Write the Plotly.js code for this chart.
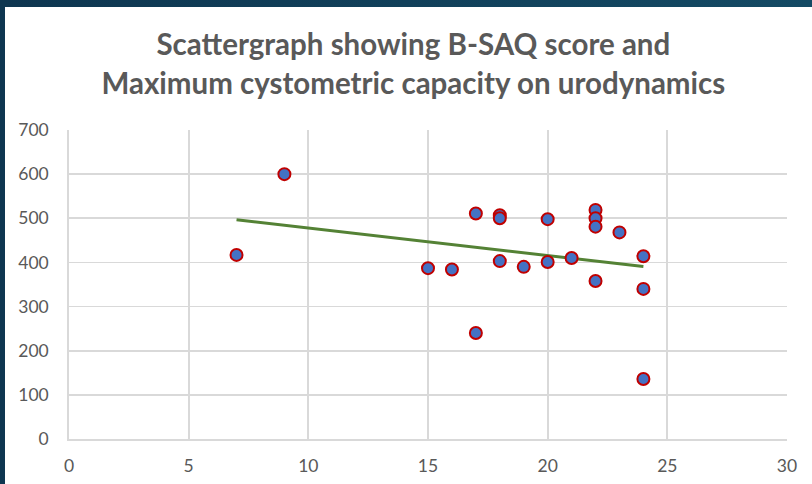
<!DOCTYPE html>
<html>
<head>
<meta charset="utf-8">
<script src="https://cdn.plot.ly/plotly-3.0.1.min.js"></script>
<style>
  html, body { margin: 0; padding: 0; width: 812px; height: 484px; overflow: hidden; }
  body { background: linear-gradient(90deg, #0e3650 0%, #144a64 100%); position: relative; }
  #chart { position: absolute; left: 5px; top: 7px; width: 807px; height: 477px; background: #fff; }
</style>
</head>
<body>
<div id="chart"></div>
<script>
const bsaqScore = [7, 9, 15, 16, 17, 17, 18, 18, 18, 19, 20, 20, 21, 22, 22, 22, 22, 23, 24, 24, 24];
const maxCapacity = [417, 600, 387, 384, 511, 240, 507, 500, 403, 390, 498, 401, 410, 519, 500, 481, 358, 468, 414, 340, 136];
const xTicks = [0, 5, 10, 15, 20, 25, 30];
const yTicks = [0, 100, 200, 300, 400, 500, 600, 700];

// Linear least-squares trendline from the data
const n = bsaqScore.length;
const mx = bsaqScore.reduce((a, b) => a + b, 0) / n;
const my = maxCapacity.reduce((a, b) => a + b, 0) / n;
let sxy = 0, sxx = 0;
for (let i = 0; i < n; i++) {
  sxy += (bsaqScore[i] - mx) * (maxCapacity[i] - my);
  sxx += (bsaqScore[i] - mx) ** 2;
}
const slope = sxy / sxx;
const intercept = my - slope * mx;
const xMin = Math.min(...bsaqScore), xMax = Math.max(...bsaqScore);
const trendX = [xMin, xMax];
const trendY = trendX.map(x => intercept + slope * x);

const traces = [
  {
    x: trendX, y: trendY, mode: 'lines', type: 'scatter',
    line: { color: '#548235', width: 3 }, hoverinfo: 'skip'
  },
  {
    x: bsaqScore, y: maxCapacity, mode: 'markers', type: 'scatter',
    marker: { size: 12, color: '#4472c4', line: { color: '#c00000', width: 2 } }
  }
];

const axisCommon = {
  showgrid: true, gridcolor: '#d9d9d9', gridwidth: 1.8,
  showline: true, linecolor: '#d9d9d9', linewidth: 1.8,
  zeroline: false, ticks: '', fixedrange: true,
  tickfont: { family: 'Lato, "Open Sans", sans-serif', size: 17.5, color: '#595959' }
};

const layout = {
  width: 807, height: 477,
  margin: { l: 64, r: 25, t: 123, b: 45 },
  paper_bgcolor: '#ffffff', plot_bgcolor: '#ffffff',
  showlegend: false,
  title: {
    text: 'Scattergraph showing B-SAQ score and<br>Maximum cystometric capacity on urodynamics',
    font: { family: 'Lato, "Open Sans", sans-serif', size: 29.5, color: '#595959', weight: 'bold', lineposition: 'none' },
    x: 0.506, xanchor: 'center', y: 0.899, yanchor: 'top'
  },
  xaxis: Object.assign({}, axisCommon, {
    range: [0, 30], tickvals: xTicks, ticktext: xTicks.map(String), ticklabelstandoff: 10
  }),
  yaxis: Object.assign({}, axisCommon, {
    range: [0, 700], tickvals: yTicks, ticktext: yTicks.map(String), ticklabelstandoff: 15
  })
};

Plotly.newPlot('chart', traces, layout, { displayModeBar: false, staticPlot: true });
</script>
</body>
</html>
